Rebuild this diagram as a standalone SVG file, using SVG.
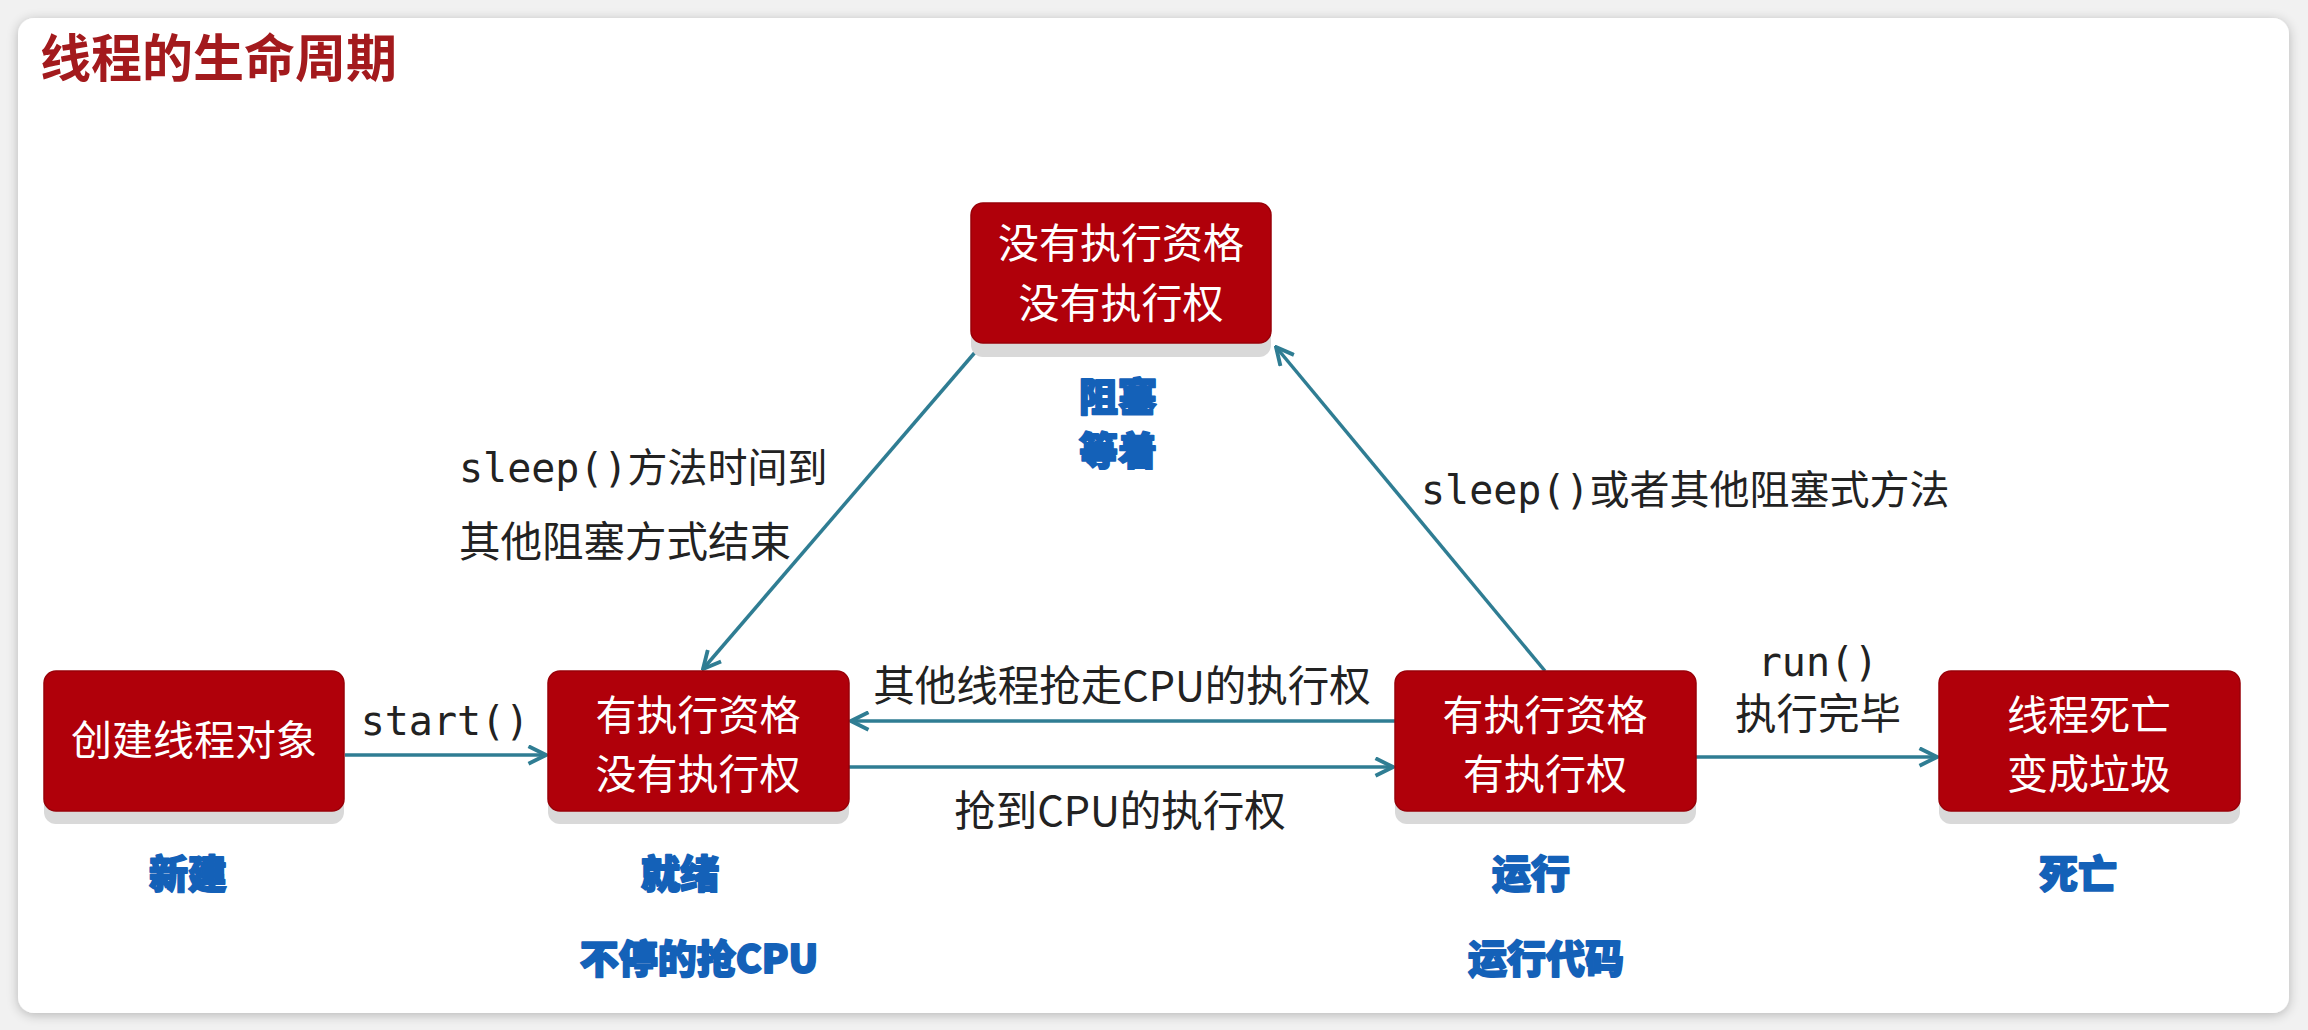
<svg xmlns="http://www.w3.org/2000/svg" width="2308" height="1030" viewBox="0 0 2308 1030">
<style>
.box{fill:#b0000a;stroke:#990008;stroke-width:1.5}
.shd{fill:#d9d9d9}
.nt{font-family:"Noto Sans CJK SC","Noto Sans",sans-serif;font-size:41px;fill:#ffffff;text-anchor:middle}
.bl{font-family:"Noto Sans CJK SC","Noto Sans",sans-serif;font-size:39px;font-weight:900;fill:#1461b8;stroke:#1461b8;stroke-width:1.8;stroke-linejoin:round;text-anchor:middle}
.lb{font-family:"DejaVu Sans Mono","Noto Sans CJK SC",monospace;font-size:40px;fill:#222222}
.lc{font-family:"Noto Sans CJK SC","Noto Sans",sans-serif;font-size:41.5px;fill:#222222}
.cn{stroke:#2f7d93;stroke-width:3.5;fill:none}
</style>
<defs>
<marker id="ah" viewBox="0 0 12 12" refX="11" refY="6" markerWidth="6" markerHeight="6" markerUnits="strokeWidth" orient="auto">
<path d="M1,1 L11,6 L1,11" fill="none" stroke="#2f7d93" stroke-width="2.2" stroke-linejoin="miter"/>
</marker>
<filter id="cs" x="-5%" y="-5%" width="110%" height="110%">
<feGaussianBlur in="SourceAlpha" stdDeviation="6"/>
<feOffset dx="0" dy="2"/>
<feComponentTransfer><feFuncA type="linear" slope="0.25"/></feComponentTransfer>
<feMerge><feMergeNode/><feMergeNode in="SourceGraphic"/></feMerge>
</filter>
</defs>
<rect x="0" y="0" width="2308" height="1030" fill="#f1f1f1"/>
<rect x="18" y="18" width="2271" height="995" rx="16" fill="#ffffff" filter="url(#cs)"/>
<text x="40" y="77" font-family="Noto Sans CJK SC,sans-serif" font-size="51" font-weight="bold" fill="#a31a1d">线程的生命周期</text>

<g id="connectors">
<line class="cn" x1="345" y1="755" x2="546" y2="755" marker-end="url(#ah)"/>
<line class="cn" x1="1395" y1="721" x2="851" y2="721" marker-end="url(#ah)"/>
<line class="cn" x1="849" y1="767" x2="1393" y2="767" marker-end="url(#ah)"/>
<line class="cn" x1="1696" y1="757" x2="1937" y2="757" marker-end="url(#ah)"/>
<line class="cn" x1="977" y1="350" x2="703" y2="669" marker-end="url(#ah)"/>
<line class="cn" x1="1545" y1="671" x2="1276" y2="347" marker-end="url(#ah)"/>
<text class="lb" x="445" y="735" text-anchor="middle">start()</text>
<text class="lc" x="1122" y="701" text-anchor="middle">其他线程抢走CPU的执行权</text>
<text class="lc" x="1120" y="826" text-anchor="middle">抢到CPU的执行权</text>
<text class="lb" x="1818" y="676" text-anchor="middle">run()</text>
<text class="lc" x="1818" y="729" text-anchor="middle">执行完毕</text>
<text class="lb" x="459" y="482">sleep()方法时间到</text>
<text class="lc" x="459" y="557">其他阻塞方式结束</text>
<text class="lb" x="1421" y="504">sleep()或者其他阻塞式方法</text>
</g>

<g id="node-blocked">
<rect class="shd" x="971" y="216" width="300" height="141" rx="12"/>
<rect class="box" x="971" y="203" width="300" height="140" rx="12"/>
<text class="nt" x="1121" y="258">没有执行资格</text>
<text class="nt" x="1121" y="318">没有执行权</text>
<text class="bl" x="1118" y="411">阻塞</text>
<text class="bl" x="1118" y="465">等着</text>
</g>

<g id="node-new">
<rect class="shd" x="44" y="684" width="300" height="140" rx="12"/>
<rect class="box" x="44" y="671" width="300" height="140" rx="12"/>
<text class="nt" x="194" y="755">创建线程对象</text>
<text class="bl" x="188" y="888">新建</text>
</g>

<g id="node-ready">
<rect class="shd" x="548" y="684" width="301" height="140" rx="12"/>
<rect class="box" x="548" y="671" width="301" height="140" rx="12"/>
<text class="nt" x="698" y="730">有执行资格</text>
<text class="nt" x="698" y="789">没有执行权</text>
<text class="bl" x="680" y="888">就绪</text>
<text class="bl" x="699" y="973">不停的抢CPU</text>
</g>

<g id="node-running">
<rect class="shd" x="1395" y="684" width="301" height="140" rx="12"/>
<rect class="box" x="1395" y="671" width="301" height="140" rx="12"/>
<text class="nt" x="1545" y="730">有执行资格</text>
<text class="nt" x="1545" y="789">有执行权</text>
<text class="bl" x="1531" y="888">运行</text>
<text class="bl" x="1546" y="973">运行代码</text>
</g>

<g id="node-dead">
<rect class="shd" x="1939" y="684" width="301" height="140" rx="12"/>
<rect class="box" x="1939" y="671" width="301" height="140" rx="12"/>
<text class="nt" x="2089" y="730">线程死亡</text>
<text class="nt" x="2089" y="789">变成垃圾</text>
<text class="bl" x="2078" y="888">死亡</text>
</g>
</svg>
